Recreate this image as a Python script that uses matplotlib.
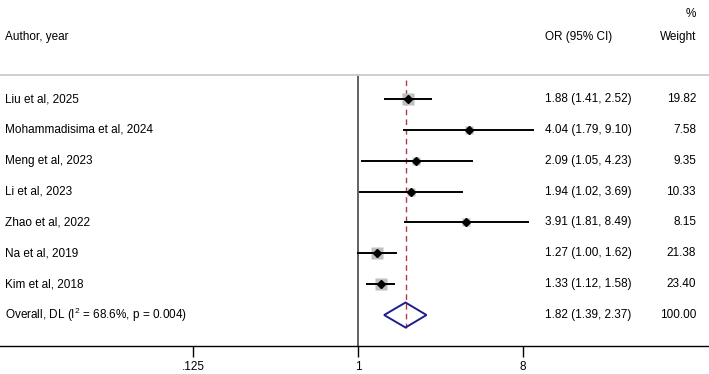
import matplotlib
matplotlib.use("Agg")
import matplotlib.pyplot as plt
import numpy as np
from matplotlib.patches import Polygon

plt.rcParams['font.family'] = ['Liberation Sans', 'DejaVu Sans']
plt.rcParams['mathtext.fontset'] = 'custom'
plt.rcParams['mathtext.rm'] = 'Liberation Sans'
plt.rcParams['mathtext.it'] = 'Liberation Sans'

studies = ["Liu et al, 2025", "Mohammadisima et al, 2024", "Meng et al, 2023",
           "Li et al, 2023", "Zhao et al, 2022", "Na et al, 2019", "Kim et al, 2018"]
or_vals = [1.88, 4.04, 2.09, 1.94, 3.91, 1.27, 1.33]
ci_low = [1.41, 1.79, 1.05, 1.02, 1.81, 1.00, 1.12]
ci_high = [2.52, 9.10, 4.23, 3.69, 8.49, 1.62, 1.58]
weights = [19.82, 7.58, 9.35, 10.33, 8.15, 21.38, 23.40]
overall_label = r"Overall, DL (I$^{2}$ = 68.6%, p = 0.004)"
overall_or, overall_low, overall_high = 1.82, 1.39, 2.37
tick_vals = [0.125, 1, 8]
tick_labels = [".125", "1", "8"]

W, H = 709, 374
fig = plt.figure(figsize=(W / 100, H / 100), dpi=100)
ax = fig.add_axes([0, (H - 346) / H, 1, 346 / H])
ax.set_xscale('log', base=2)
px_per = 55.0
x0 = 358.0
ax.set_xlim(2 ** ((0 - x0) / px_per), 2 ** ((W - x0) / px_per))
row_h = 30.86
y0 = 99.0
def py(p):
    return (p - y0) / row_h
ax.set_ylim(py(346), py(0))

for s in ['top', 'left', 'right']:
    ax.spines[s].set_visible(False)
ax.spines['bottom'].set_linewidth(1.0)
ax.set_yticks([])
fs = 8.5
ax.set_xticks(tick_vals)
ax.set_xticklabels(tick_labels, fontsize=fs)
ax.xaxis.set_minor_locator(matplotlib.ticker.NullLocator())
ax.tick_params(axis='x', direction='out', length=8, width=1, pad=3)

trans = ax.get_yaxis_transform()  # x axes fraction, y data
# header
ax.text(5 / W, py(37), "Author, year", transform=trans, ha='left', va='center', fontsize=fs)
ax.text(545 / W, py(37), "OR (95% CI)", transform=trans, ha='left', va='center', fontsize=fs)
ax.text(696 / W, py(37), "Weight", transform=trans, ha='right', va='center', fontsize=fs)
ax.text(696 / W, py(14), "%", transform=trans, ha='right', va='center', fontsize=fs)
ax.plot([0, 1], [py(75), py(75)], transform=trans, color='#cccccc', lw=1.3, clip_on=False)

# null line
ax.plot([1, 1], [py(75), py(346)], color='#555555', lw=1.3, zorder=1)
# overall dashed line
ax.plot([overall_or, overall_or], [py(80), py(328)], color='#b23a48', lw=1.0,
        dashes=(4, 3), zorder=2)

maxw = max(weights)
for i, (name, o, lo, hi, w) in enumerate(zip(studies, or_vals, ci_low, ci_high, weights)):
    ax.text(5 / W, i, name, transform=trans, ha='left', va='center', fontsize=fs)
    ax.text(545 / W, i, f"{o:.2f} ({lo:.2f}, {hi:.2f})", transform=trans, ha='left', va='center', fontsize=fs)
    ax.text(696 / W, i, f"{w:.2f}", transform=trans, ha='right', va='center', fontsize=fs)
    side = 12.5 * np.sqrt(w / maxw)  # pixels
    ax.plot([o], [i], marker='s', ms=side * 0.72, color='#bfbfbf', mec='none', zorder=3)
    ax.plot([lo, hi], [i, i], color='black', lw=1.4, zorder=4)
    ax.plot([o], [i], marker='D', ms=3.8, color='black', zorder=5)

iy = len(studies)
ax.text(5 / W, iy, overall_label, transform=trans, ha='left', va='center', fontsize=fs)
ax.text(545 / W, iy, f"{overall_or:.2f} ({overall_low:.2f}, {overall_high:.2f})", transform=trans,
        ha='left', va='center', fontsize=fs)
ax.text(696 / W, iy, "100.00", transform=trans, ha='right', va='center', fontsize=fs)
hh = 12.5 / row_h
diamond = Polygon([(overall_low, iy), (overall_or, iy - hh), (overall_high, iy), (overall_or, iy + hh)],
                  closed=True, facecolor='none', edgecolor='#1f1f8a', lw=1.4, zorder=4)
ax.add_patch(diamond)

fig.savefig("out.png", dpi=100)
